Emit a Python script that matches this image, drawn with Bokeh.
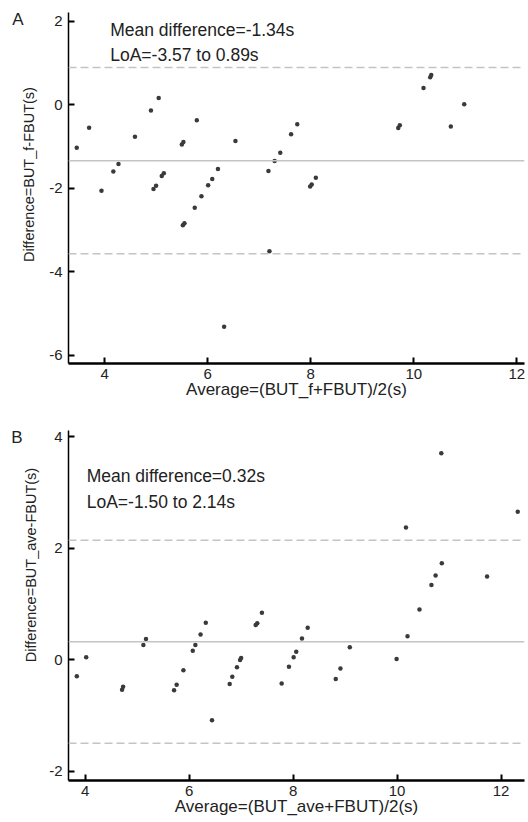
import json
from bokeh.plotting import figure
from bokeh.models import Label, Span, FixedTicker, LinearAxis, CustomJSTickFormatter
from bokeh.layouts import column
from bokeh.embed import file_html
from bokeh.resources import INLINE

# Panel A data
avg_a = [3.46, 3.70, 3.94, 4.17, 4.27, 4.59, 4.90, 5.05, 4.95, 5.00, 5.11, 5.15, 5.50, 5.53,
         5.79, 5.88, 5.75, 5.52, 5.55, 6.01, 6.09, 6.20, 6.32, 6.54, 7.18, 7.30, 7.41, 7.62,
         7.74, 7.99, 8.02, 8.10, 7.20, 9.70, 9.73, 10.19, 10.32, 10.34, 10.72, 10.98]
diff_a = [-1.03, -0.55, -2.06, -1.60, -1.42, -0.77, -0.14, 0.16, -2.02, -1.94, -1.71, -1.64,
          -0.95, -0.89, -0.37, -2.19, -2.47, -2.89, -2.84, -1.93, -1.78, -1.54, -5.32, -0.87,
          -1.59, -1.35, -1.15, -0.71, -0.47, -1.96, -1.91, -1.75, -3.51, -0.56, -0.49, 0.40,
          0.66, 0.71, -0.52, 0.01]
mean_a, loa_lo_a, loa_hi_a = -1.34, -3.57, 0.89

# Panel B data
avg_b = [10.85, 12.32, 10.17, 10.86, 10.74, 10.66, 11.73, 10.43, 10.20, 9.99, 9.09, 8.91, 8.82,
         8.28, 8.17, 8.06, 8.01, 7.92, 7.78, 7.40, 7.28, 7.31, 7.00, 6.98, 6.92, 6.83, 6.78,
         6.44, 6.32, 6.22, 6.12, 6.07, 5.89, 5.76, 5.71, 5.12, 5.17, 4.73, 4.71, 4.02, 3.84]
diff_b = [3.70, 2.65, 2.37, 1.73, 1.51, 1.34, 1.49, 0.90, 0.42, 0.01, 0.22, -0.16, -0.35,
          0.57, 0.38, 0.14, 0.04, -0.13, -0.43, 0.84, 0.62, 0.65, 0.03, -0.01, -0.14, -0.31,
          -0.44, -1.09, 0.66, 0.45, 0.26, 0.16, -0.19, -0.45, -0.55, 0.26, 0.37, -0.49, -0.54,
          0.04, -0.30]
mean_b, loa_lo_b, loa_hi_b = 0.32, -1.50, 2.14

x_ticks = [4, 6, 8, 10, 12]
y_ticks_a = [-6, -4, -2, 0, 2]
y_ticks_b = [-2, 0, 2, 4]

FONT = "Liberation Sans"
DOT = "#3a3a3a"
LINE = "#c4c4c4"
TXT = "#222222"


def text_axis(pos, text, standoff, size, orientation):
    """A bare left axis used only to place one text outside the frame."""
    ax = LinearAxis(ticker=FixedTicker(ticks=[pos]),
                    formatter=CustomJSTickFormatter(code="return %s;" % json.dumps(text)))
    ax.axis_line_color = None
    ax.major_tick_line_color = None
    ax.minor_tick_line_color = None
    ax.major_tick_in = 0
    ax.major_tick_out = 0
    ax.major_label_standoff = standoff
    ax.major_label_orientation = orientation
    ax.major_label_text_font = FONT
    ax.major_label_text_font_size = size
    ax.major_label_text_color = TXT
    return ax


def make_panel(avg, diff, mean, lo, hi, xr, yr, yticks, height, mb_top, mb_bottom,
               xlabel, ylabel, ylabel_y, ylabel_off, letter, letter_y, letter_off,
               txt1, txt2, txt_pos):
    p = figure(width=528, height=height, x_range=xr, y_range=yr,
               output_backend="svg", toolbar_location=None,
               min_border_top=mb_top, min_border_bottom=mb_bottom,
               min_border_left=68, min_border_right=4)
    p.grid.visible = False
    p.outline_line_color = None
    p.background_fill_color = "white"
    p.border_fill_color = "white"

    for ax in (p.xaxis[0], p.yaxis[0]):
        ax.axis_line_color = "black"
        ax.major_tick_line_color = "black"
        ax.major_tick_line_width = 2
        ax.major_tick_in = 6
        ax.major_tick_out = 0
        ax.minor_tick_line_color = None
        ax.major_label_text_font = FONT
        ax.major_label_text_font_size = "15px"
        ax.major_label_text_color = TXT
    p.xaxis.axis_line_width = 2.5
    p.yaxis.axis_line_width = 1.5
    p.xaxis.ticker = FixedTicker(ticks=x_ticks)
    p.yaxis.ticker = FixedTicker(ticks=yticks)
    p.xaxis.major_label_overrides = {t: str(t) for t in x_ticks}
    p.yaxis.major_label_overrides = {t: str(t) for t in yticks}
    p.xaxis.major_label_standoff = 5
    p.yaxis.major_label_standoff = 6
    p.xaxis.axis_label = xlabel
    p.xaxis.axis_label_text_font = FONT
    p.xaxis.axis_label_text_font_size = "17px"
    p.xaxis.axis_label_text_font_style = "normal"
    p.xaxis.axis_label_text_color = TXT
    p.xaxis.axis_label_standoff = -2

    # y-axis title and panel letter, placed in the left border
    p.add_layout(text_axis(ylabel_y, ylabel, ylabel_off, "14.5px", "parallel"), "left")
    p.add_layout(text_axis(letter_y, letter, letter_off, "17px", "horizontal"), "left")

    p.add_layout(Span(location=hi, dimension="width", line_color=LINE,
                      line_width=1.5, line_dash="8 4"))
    p.add_layout(Span(location=lo, dimension="width", line_color=LINE,
                      line_width=1.5, line_dash="8 4"))
    p.add_layout(Span(location=mean, dimension="width", line_color=LINE,
                      line_width=1.5))

    p.scatter(avg, diff, size=4.5, color=DOT, line_color=None)

    p.add_layout(Label(x=txt_pos[0], y=txt_pos[1], text=txt1,
                       text_align="left", text_baseline="middle", text_font=FONT,
                       text_font_size="17.5px", text_color=TXT))
    p.add_layout(Label(x=txt_pos[0], y=txt_pos[2], text=txt2,
                       text_align="left", text_baseline="middle", text_font=FONT,
                       text_font_size="17.5px", text_color=TXT))
    return p


pa = make_panel(avg_a, diff_a, mean_a, loa_lo_a, loa_hi_a,
                (3.3, 12.15), (-6.2, 2.21), y_ticks_a, 414, 12, 51,
                "Average=(BUT_f+FBUT)/2(s)", "Difference=BUT_f-FBUT(s)", -1.674, 9,
                "A", 2.04, -5,
                "Mean difference=-1.34s", "LoA=-3.57 to 0.89s", (4.11, 1.78, 1.18))

pb = make_panel(avg_b, diff_b, mean_b, loa_lo_b, loa_hi_b,
                (3.68, 12.45), (-2.17, 4.11), y_ticks_b, 408, 16, 42,
                "Average=(BUT_ave+FBUT)/2(s)", "Difference=BUT_ave-FBUT(s)", 1.697, 7,
                "B", 3.987, -2,
                "Mean difference=0.32s", "LoA=-1.50 to 2.14s", (4.03, 3.29, 2.83))

layout = column(pa, pb, spacing=0)
open("out.html", "w").write(file_html(layout, INLINE))
